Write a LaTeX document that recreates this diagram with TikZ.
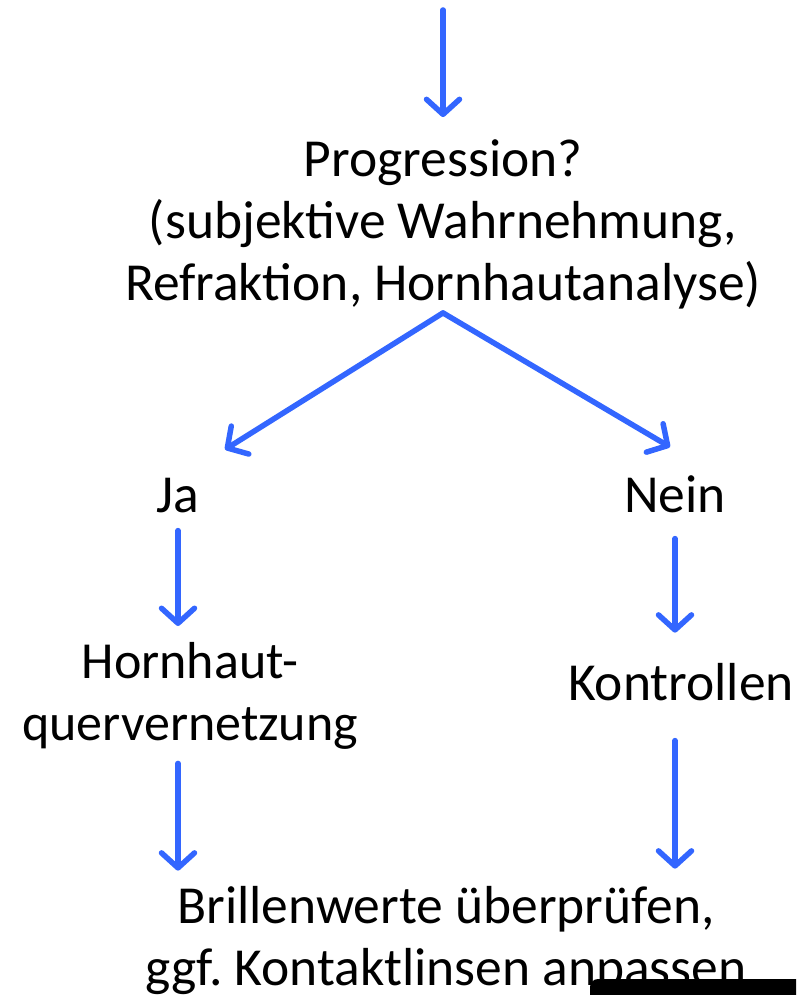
\documentclass[tikz,border=0pt]{standalone}
\usepackage{fontspec}
\setmainfont{Carlito}
\usetikzlibrary{arrows.meta}
\definecolor{pfeilblau}{HTML}{3366FF}
\frenchspacing
\tikzset{
  pfeil/.style={draw=pfeilblau, line width=5.5pt, line cap=round,
    -{Straight Barb[round,length=15pt,width=33pt]}},
  txt/.style={inner sep=0pt, font=\fontsize{53.5}{62}\selectfont}
}
\begin{document}
\begin{tikzpicture}[x=1pt,y=-1pt]
  \useasboundingbox (0,0) rectangle (796,995);

  % Frage
  \node [txt, align=center] (prog) at (443,224) {Progression?\\(subjektive Wahrnehmung,\\Refraktion, Hornhautanalyse)};
  \coordinate (oben) at (443,10);

  % Antworten
  \node [txt, anchor=base] (ja) at (178,512) {Ja};
  \node [txt, anchor=base] (nein) at (675,512) {Nein};

  \node [txt, align=center, anchor=north, font=\fontsize{52}{62}\selectfont] (hh) at (190,642) {Hornhaut-\\quervernetzung};
  \node [txt, anchor=base] (kon) at (681,700) {Kontrollen};

  \node [txt, align=center] (brille) at (446,941) {Brillenwerte überprüfen,\\ggf. Kontaktlinsen anpassen};

  % Pfeile
  \draw [pfeil, shorten >=22pt] (oben) -- (prog.north);
  \draw [pfeil] ([yshift=-4pt]prog.south) -- ([xshift=47pt,yshift=28pt]ja.north);
  \draw [pfeil] ([yshift=-4pt]prog.south) -- ([xshift=-5pt,yshift=28pt]nein.north);
  \draw [pfeil, shorten <=18pt, shorten >=16pt] (ja.south) -- (ja.south |- hh.north);
  \draw [pfeil, shorten <=26pt, shorten >=30pt] (nein.south) -- (nein.south |- kon.north);
  \draw [pfeil, shorten <=14pt, shorten >=16pt] (ja.south |- hh.south) -- (ja.south |- brille.north);
  \draw [pfeil, shorten <=40pt, shorten >=18pt] (nein.south |- kon.south) -- (nein.south |- brille.north);

  % Balken unten rechts
  \fill (590,995) [rounded corners=8pt] -- (590,979) [sharp corners] -- (796,979) -- (796,995) -- cycle;
\end{tikzpicture}
\end{document}
